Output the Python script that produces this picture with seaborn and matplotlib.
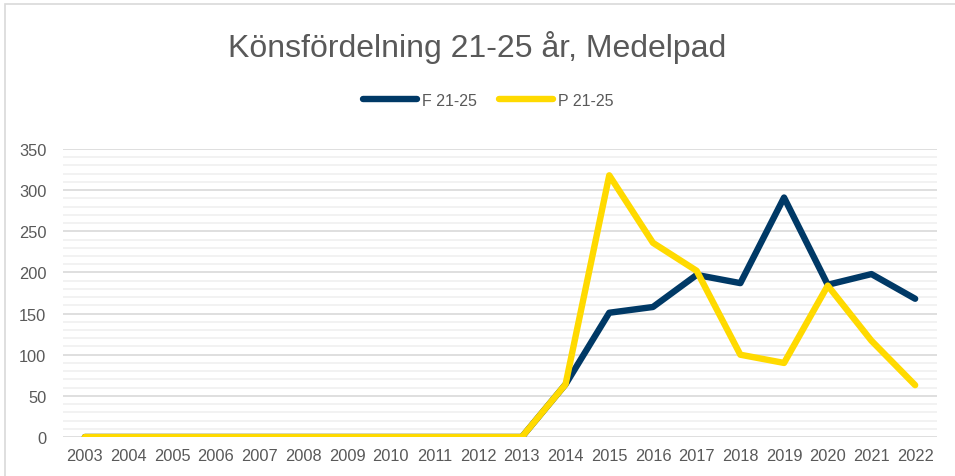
import pandas as pd
import matplotlib.pyplot as plt
import seaborn as sns
from matplotlib.lines import Line2D

years = [str(y) for y in range(2003, 2023)]
f_vals = [0, 0, 0, 0, 0, 0, 0, 0, 0, 0, 0, 64, 151, 158, 197, 187, 291, 185, 198, 168]
p_vals = [0, 0, 0, 0, 0, 0, 0, 0, 0, 0, 0, 64, 318, 236, 202, 100, 90, 184, 117, 63]

df = pd.DataFrame({'År': years * 2,
                   'Antal': f_vals + p_vals,
                   'Serie': ['F 21-25'] * len(years) + ['P 21-25'] * len(years)})

sns.set_style('white')
plt.rcParams['font.family'] = ['Liberation Sans', 'DejaVu Sans']

fig = plt.figure(figsize=(9.55, 4.77), dpi=100)
ax = fig.add_axes([63 / 955, 1 - 438 / 477, (937 - 63) / 955, (438 - 150) / 477])

sns.lineplot(data=df, x='År', y='Antal', hue='Serie', sort=False,
             palette={'F 21-25': '#003966', 'P 21-25': '#FFDA00'},
             linewidth=4.6, ax=ax, legend=False)
for line in ax.lines:
    line.set_solid_capstyle('round')
    line.set_solid_joinstyle('round')

ax.set_xlim(-0.5, len(years) - 0.5)
ax.set_ylim(0, 350)
ax.set_yticks(range(0, 351, 50))
ax.set_yticks(range(0, 351, 10), minor=True)
ax.grid(which='major', axis='y', color='#d9d9d9', linewidth=1.2)
ax.grid(which='minor', axis='y', color='#f0f0f0', linewidth=1.2)
ax.set_axisbelow(True)
for s in ax.spines.values():
    s.set_visible(False)
ax.tick_params(axis='both', which='both', length=0, labelsize=11.8, colors='#595959', pad=8)
ax.tick_params(axis='y', pad=12)
ax.set_xlabel('')
ax.set_ylabel('')

fig.text(0.5, 1 - 48 / 477, 'Könsfördelning 21-25 år, Medelpad', ha='center', va='center',
         fontsize=23, color='#595959')

handles = [Line2D([], [], color='#003966', linewidth=4.6, solid_capstyle='round'),
           Line2D([], [], color='#FFDA00', linewidth=4.6, solid_capstyle='round')]
fig.legend(handles, ['F 21-25', 'P 21-25'], loc='center', bbox_to_anchor=(488 / 955, 1 - 101 / 477),
           ncol=2, frameon=False, fontsize=11.5, labelcolor='#595959', handlelength=3.4,
           handletextpad=0.3, columnspacing=1.4)

border = plt.Rectangle((5 / 955, -0.1), 1.2, 1.1 - 5 / 477, transform=fig.transFigure,
                       fill=False, edgecolor='#d9d9d9', linewidth=1.2)
fig.patches.append(border)

fig.savefig('out.png', dpi=100)
